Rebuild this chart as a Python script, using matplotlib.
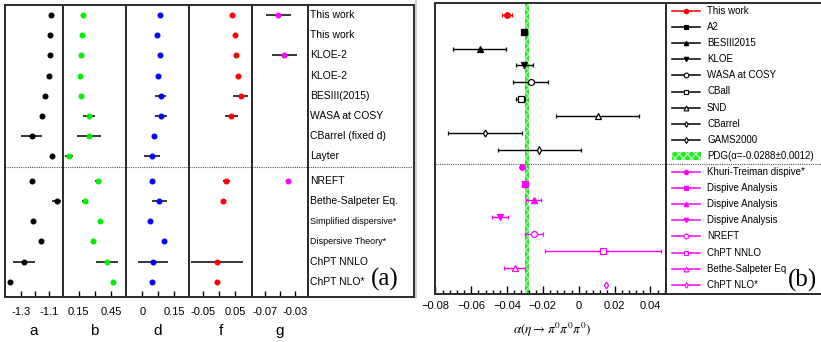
import numpy as np
import matplotlib
matplotlib.use('Agg')
import matplotlib.pyplot as plt
from matplotlib.lines import Line2D
from matplotlib.patches import Rectangle

plt.rcParams['font.family'] = ['Liberation Sans', 'DejaVu Sans']
plt.rcParams['mathtext.fontset'] = 'stix'
plt.rcParams['hatch.linewidth'] = 1.0
plt.rcParams['axes.unicode_minus'] = True

nan = np.nan

# ---------------- Panel (a): Dalitz plot parameters ----------------
labels_a = ['This work', 'This work', 'KLOE-2', 'KLOE-2', 'BESIII(2015)', 'WASA at COSY',
            'CBarrel (fixed d)', 'Layter', 'NREFT', 'Bethe-Salpeter Eq.',
            'Simplified dispersive*', 'Dispersive Theory*', 'ChPT NNLO', 'ChPT NLO*']
a_val = [-1.088, -1.095, -1.095, -1.104, -1.128, -1.149, -1.224, -1.079,
         -1.220, -1.048, -1.215, -1.161, -1.279, -1.380]
a_err = [0.005, 0.005, 0.005, 0.005, 0.018, 0.020, 0.075, 0.015,
         0.010, 0.030, 0.0, 0.0, 0.080, 0.0]
b_val = [0.187, 0.183, 0.169, 0.165, 0.174, 0.245, 0.245, 0.060,
         0.332, 0.206, 0.350, 0.282, 0.415, 0.470]
b_err = [0.005, 0.005, 0.005, 0.005, 0.008, 0.054, 0.110, 0.034,
         0.028, 0.025, 0.0, 0.0, 0.100, 0.0]
d_val = [0.083, 0.069, 0.081, 0.072, 0.086, 0.088, 0.056, 0.044,
         0.047, 0.080, 0.035, 0.103, 0.050, 0.047]
d_err = [0.003, 0.003, 0.003, 0.003, 0.025, 0.030, 0.0, 0.0375,
         0.0, 0.035, 0.0, 0.0, 0.070, 0.0]
f_val = [0.040, 0.048, 0.051, 0.057, 0.067, 0.0375, nan, nan,
         0.022, 0.0125, nan, nan, -0.007, -0.006]
f_err = [0.003, 0.003, 0.003, 0.003, 0.023, 0.020, nan, nan,
         0.010, 0.003, nan, nan, 0.082, 0.0]
g_val = [-0.0523, nan, -0.0443, nan, nan, nan, nan, nan,
         -0.0397, nan, nan, nan, nan, nan]
g_err = [0.0164, nan, 0.0163, nan, nan, nan, nan, nan,
         0.0, nan, nan, nan, nan, nan]

a_ticks, a_ticklabels = [-1.3, -1.2, -1.1], ['-1.3', '', '-1.1']
b_ticks, b_ticklabels = [0.15, 0.30, 0.45], ['0.15', '', '0.45']
d_ticks, d_ticklabels = [0.0, 0.075, 0.15], ['0', '', '0.15']
f_ticks, f_ticklabels = [-0.05, 0.0, 0.05], ['-0.05', '', '0.05']
g_ticks, g_ticklabels = [-0.07, -0.05, -0.03], ['-0.07', '', '-0.03']

# ---------------- Panel (b): alpha ----------------
names_b = ['This work', 'A2', 'BESIII2015', 'KLOE', 'WASA at COSY', 'CBall', 'SND',
           'CBarrel', 'GAMS2000', 'Khuri-Treiman dispive*', 'Dispive Analysis',
           'Dispive Analysis', 'Dispive Analysis', 'NREFT', 'ChPT NNLO',
           'Bethe-Salpeter Eq', 'ChPT NLO*']
alpha_val = [-0.0400, -0.0303, -0.0552, -0.0303, -0.0269, -0.0323, 0.0106, -0.0523,
             -0.0219, -0.0319, -0.0301, -0.0252, -0.0440, -0.0250, 0.0135, -0.0357, 0.0154]
alpha_err = [0.0030, 0.0010, 0.0148, 0.0047, 0.0097, 0.0025, 0.0233, 0.0204,
             0.0233, 0.0008, 0.0008, 0.0043, 0.0043, 0.0051, 0.0325, 0.0059, 0.0]
pdg_alpha, pdg_err = -0.0288, 0.0012
b_xticks = [-0.08, -0.06, -0.04, -0.02, 0.0, 0.02, 0.04]
b_xticklabels = ['\u22120.08', '\u22120.06', '\u22120.04', '\u22120.02', '0', '0.02', '0.04']

# styles for panel (b)
RED, BLK, MAG = '#ff0000', '#000000', '#ff00ff'
sty_b = [('o', RED, True), ('s', BLK, True), ('^', BLK, True), ('v', BLK, True),
         ('o', BLK, False), ('s', BLK, False), ('^', BLK, False), ('d', BLK, False),
         ('d', BLK, False),
         ('o', MAG, True), ('s', MAG, True), ('^', MAG, True), ('v', MAG, True),
         ('o', MAG, False), ('s', MAG, False), ('^', MAG, False), ('d', MAG, False)]
ms_b = [4, 4, 4, 4, 4.3, 4.3, 4.3, 3.5, 3.8, 4, 4, 4, 4, 4.3, 4.3, 4.3, 3.5]

W, H = 821, 342
fig = plt.figure(figsize=(W / 100, H / 100), dpi=100)


def ax_px(x0, x1, y0, y1):
    return fig.add_axes([x0 / W, 1 - y1 / H, (x1 - x0) / W, (y1 - y0) / H])


FRAME = '#2a2a2a'

# ---- panel (a) ----
rows = np.arange(len(labels_a))
ypos_a = rows + np.where(rows >= 8, 0.22, 0.0)
ylim_a = (13.98, -0.5)
sep_a = 7.55

cols = [
    ('a', a_val, a_err, '#000000', (-1.413, -1.003), a_ticks, a_ticklabels, 5, 63),
    ('b', b_val, b_err, '#00ee00', (0.005, 0.589), b_ticks, b_ticklabels, 63, 126),
    ('d', d_val, d_err, '#0000ff', (-0.076, 0.219), d_ticks, d_ticklabels, 126, 189),
    ('f', f_val, f_err, '#ff0000', (-0.0947, 0.102), f_ticks, f_ticklabels, 189, 252),
    ('g', g_val, g_err, '#ff00ff', (-0.0873, -0.0127), g_ticks, g_ticklabels, 252, 308),
]
for name, vals, errs, col, xl, tk, tkl, x0, x1 in cols:
    ax = ax_px(x0, x1, 5, 297)
    ax.errorbar(vals, ypos_a, xerr=errs, fmt='o', ms=3.3, mfc=col, mec=col,
                ecolor='black', elinewidth=1.1, capsize=0, zorder=3)
    ax.set_xlim(*xl)
    ax.set_ylim(*ylim_a)
    ax.set_yticks([])
    ax.set_xticks(tk)
    ax.set_xticklabels(tkl)
    ax.tick_params(axis='x', direction='in', length=4, width=1, labelsize=8, pad=7)
    ax.axhline(sep_a, color='#555555', lw=0.8, ls=(0, (1, 1)))
    for s in ax.spines.values():
        s.set_color(FRAME)
        s.set_linewidth(1.4)
    fig.text(((x0 + x1) / 2) / W, 1 - 331 / H, name, fontsize=11, ha='center', va='center')

axlab = ax_px(308, 414, 5, 297)
axlab.set_xlim(0, 106)
axlab.set_ylim(*ylim_a)
axlab.set_xticks([])
axlab.set_yticks([])
axlab.axhline(sep_a, color='#555555', lw=0.8, ls=(0, (1, 1)))
for s in axlab.spines.values():
    s.set_color(FRAME)
    s.set_linewidth(1.4)
for lab, y in zip(labels_a, ypos_a):
    fs = 6.5 if lab.startswith(('Simplified', 'Dispersive')) else 7.5
    axlab.text(2, y, lab, fontsize=fs, ha='left', va='center')
fig.text(385 / W, 1 - 279 / H, '(a)', family='Liberation Serif', fontsize=18,
         ha='center', va='center')

# separator grey line between panels
fig.add_artist(Line2D([416 / W, 416 / W], [1 - 297 / H, 1], color='#cccccc', lw=1.5))

# ---- panel (b) ----
axb = ax_px(435, 666, 3, 294)
ypos_b = np.arange(len(names_b))
axb.axvspan(pdg_alpha - pdg_err, pdg_alpha + pdg_err, facecolor='#2fe02f',
            edgecolor='#9dff9d', hatch='xxxx', lw=0, zorder=1)
for i in range(len(names_b)):
    m, c, filled = sty_b[i]
    axb.errorbar(alpha_val[i], ypos_b[i], xerr=alpha_err[i], fmt=m, ms=ms_b[i],
                 mfc=c if filled else 'white', mec=c, mew=0.9, ecolor=c,
                 elinewidth=1.0, capsize=1.5, capthick=0.9, zorder=3)
axb.set_xlim(-0.0802, 0.0487)
axb.set_ylim(16.55, -0.70)
axb.set_yticks([])
axb.set_xticks(b_xticks)
axb.set_xticklabels(b_xticklabels)
axb.set_xticks(np.arange(-0.08, 0.0481, 0.004), minor=True)
axb.tick_params(axis='x', which='major', direction='in', length=6, width=1, labelsize=8, pad=5)
axb.tick_params(axis='x', which='minor', direction='in', length=3, width=1)
axb.axhline(8.83, color='#555555', lw=0.8, ls=(0, (1, 1)))
for s in axb.spines.values():
    s.set_color(FRAME)
    s.set_linewidth(1.4)
fig.text(552 / W, 1 - 330 / H, r'$\alpha(\eta\rightarrow\pi^0\pi^0\pi^0)$', fontsize=9.5,
         ha='center', va='center')

# legend box
axl = ax_px(666, 830, 3, 294)
axl.set_xlim(666, 830)
axl.set_ylim(294, 3)
axl.set_xticks([])
axl.set_yticks([])
axl.spines['right'].set_visible(False)
for s in ['top', 'bottom', 'left']:
    axl.spines[s].set_color(FRAME)
    axl.spines[s].set_linewidth(1.4)
axl.axhline(163.5, color='#555555', lw=0.8, ls=(0, (1, 1)))

leg_entries = list(range(9)) + ['pdg'] + list(range(9, 17))
for k, e in enumerate(leg_entries):
    y = 11 + 16.1 * k
    if e == 'pdg':
        axl.add_patch(Rectangle((672, y - 4.2), 29, 8.4, facecolor='#2fe02f',
                                edgecolor='#9dff9d', hatch='xxxx', lw=0))
        txt = 'PDG(\u03b1=-0.0288\u00b10.0012)'
    else:
        m, c, filled = sty_b[e]
        axl.plot([672, 700], [y, y], color=c, lw=1.1)
        axl.plot([686], [y], marker=m, ms=ms_b[e] * 0.8, mfc=c if filled else 'white',
                 mec=c, mew=0.8, ls='none')
        txt = names_b[e]
    axl.text(707, y, txt, fontsize=7, ha='left', va='center')
fig.text(802 / W, 1 - 280 / H, '(b)', family='Liberation Serif', fontsize=18,
         ha='center', va='center')

fig.savefig('out.png', dpi=100)
